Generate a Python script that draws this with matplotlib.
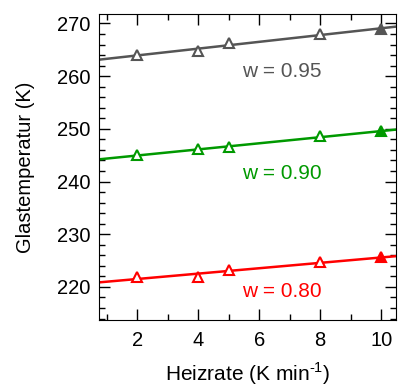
import numpy as np, matplotlib; matplotlib.use("Agg")
import matplotlib.pyplot as plt
from matplotlib.ticker import MultipleLocator

plt.rcParams['font.family'] = ['Liberation Sans', 'DejaVu Sans']
plt.rcParams['mathtext.fontset'] = 'custom'
plt.rcParams['mathtext.rm'] = 'Liberation Sans'

rate = [2, 4, 5, 8, 10]
tg_095 = [264.0, 264.7, 266.3, 268.0, 268.9]
tg_090 = [245.0, 246.1, 246.5, 248.6, 249.5]
tg_080 = [221.9, 221.8, 223.2, 224.7, 225.6]
labels = ['w = 0.95', 'w = 0.90', 'w = 0.80']
colors = ['#555555', '#009900', '#ff0000']
label_y = [260.8, 241.6, 219.1]

fig = plt.figure(figsize=(3.98, 3.88), dpi=100)
ax = fig.add_axes([0.249, 0.175, 0.747, 0.789])
xs = np.array([0.75, 10.5])
for tg, c, lab, ly in zip([tg_095, tg_090, tg_080], colors, labels, label_y):
    k, d = np.polyfit(rate, tg, 1)
    ax.plot(xs, k*xs + d, color=c, lw=1.8)
    ax.plot(rate[:-1], tg[:-1], ls='none', marker='^', ms=7.5, mfc='white', mec=c, mew=1.5)
    ax.plot(rate[-1:], tg[-1:], ls='none', marker='^', ms=7.5, mfc=c, mec=c, mew=1.5)
    ax.text(5.44, ly, lab, color=c, fontsize=15, va='center', ha='left')

ax.set_xlim(0.75, 10.5); ax.set_ylim(213.7, 271.8)
ax.xaxis.set_major_locator(MultipleLocator(2)); ax.xaxis.set_minor_locator(MultipleLocator(1))
ax.yaxis.set_major_locator(MultipleLocator(10)); ax.yaxis.set_minor_locator(MultipleLocator(2))
ax.tick_params(which='both', direction='in', top=True, right=True, labelsize=14.5, width=1)
ax.tick_params(which='major', length=8); ax.tick_params(which='minor', length=4)
ax.tick_params(axis='x', which='major', pad=8); ax.tick_params(axis='y', which='major', pad=6)
ax.set_xlabel('Heizrate (K min$^{\u20101}$)', fontsize=15, labelpad=7)
ax.set_ylabel('Glastemperatur (K)', fontsize=14.5, labelpad=16)
fig.savefig('out.png', dpi=100)
